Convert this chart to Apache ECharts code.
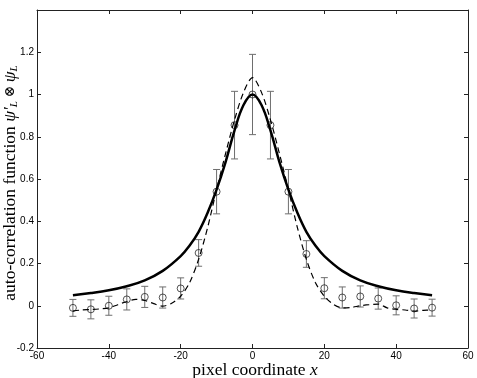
<!DOCTYPE html>
<html>
<head>
<meta charset="utf-8">
<script src="https://cdn.jsdelivr.net/npm/echarts@6/dist/echarts.min.js"></script>
<style>
html,body{margin:0;padding:0;background:#fff;}
#main{width:477px;height:378px;}
</style>
</head>
<body>
<div id="main"></div>
<script>
// measured points with error bars
var ptX = [-50,-45,-40,-35,-30,-25,-20,-15,-10,-5,0,5,10,15,20,25,30,35,40,45,50];
var ptY = [-0.01,-0.017,0.0,0.03,0.042,0.039,0.082,0.25,0.54,0.855,1.0,0.855,0.54,0.245,0.083,0.039,0.044,0.034,0.002,-0.013,-0.009];
var ptErr = [0.04,0.045,0.045,0.05,0.05,0.05,0.05,0.063,0.105,0.16,0.19,0.16,0.105,0.063,0.05,0.05,0.05,0.05,0.045,0.045,0.04];

// solid curve
var solidX = [-50,-45,-40,-35,-30,-25,-20,-17.5,-15,-12.5,-10,-7.5,-5,-2.5,0,2.5,5,7.5,10,12.5,15,17.5,20,25,30,35,40,45,50];
var solidY = [0.05,0.06,0.073,0.092,0.12,0.165,0.235,0.285,0.35,0.44,0.55,0.68,0.83,0.95,1.0,0.95,0.83,0.68,0.55,0.44,0.35,0.285,0.235,0.165,0.12,0.092,0.073,0.06,0.05];

// dashed curve
var dashX = [-50,-47.5,-45,-42.5,-40,-37.5,-35,-32.5,-30,-27.5,-25,-22.5,-20,-17.5,-15,-12.5,-10,-7.5,-5,-2.5,0,
	2.5,5,7.5,10,12.5,15,17.5,20,22.5,25,27.5,30,32.5,35,37.5,40,42.5,45,47.5,50];
var dashY = [-0.025,-0.02,-0.018,-0.015,-0.01,0.005,0.02,0.03,0.025,0.01,-0.002,0.012,0.045,0.11,0.22,0.37,0.55,0.72,0.88,1.01,1.08,
	1.01,0.88,0.72,0.55,0.37,0.22,0.11,0.045,0.007,-0.01,-0.008,0.0,0.005,0.008,-0.01,-0.017,-0.02,-0.025,-0.022,-0.02];

var xTicks = {min: -60, max: 60, interval: 20};
var yTicks = {min: -0.2, max: 1.4, interval: 0.2};

function pairs(xs, ys) {
	var out = [];
	for (var i = 0; i < xs.length; i++) out.push([xs[i], ys[i]]);
	return out;
}

var errData = [];
for (var i = 0; i < ptX.length; i++) errData.push([ptX[i], ptY[i], ptErr[i]]);

function renderErr(params, api) {
	var x = api.value(0), y = api.value(1), e = api.value(2);
	var top = api.coord([x, y + e]);
	var bot = api.coord([x, y - e]);
	var w = 3.5;
	var st = {stroke: '#6e6e6e', lineWidth: 1};
	return {
		type: 'group',
		children: [
			{type: 'line', shape: {x1: top[0], y1: top[1], x2: bot[0], y2: bot[1]}, style: st},
			{type: 'line', shape: {x1: top[0] - w, y1: top[1], x2: top[0] + w, y2: top[1]}, style: st},
			{type: 'line', shape: {x1: bot[0] - w, y1: bot[1], x2: bot[0] + w, y2: bot[1]}, style: st}
		]
	};
}

var lblFont = {fontFamily: 'Liberation Sans, Arial, sans-serif', fontSize: 10, color: '#000'};
var lineSt = {show: true, onZero: false, lineStyle: {color: '#222', width: 1}};
var tickSt = {show: true, inside: true, length: 4, lineStyle: {color: '#222', width: 1}};

function fmt(v) {
	if (Math.abs(v - 1.4) < 1e-6) return '';
	return (Math.round(v * 10) / 10).toString();
}

var chart = echarts.init(document.getElementById('main'));
chart.setOption({
	animation: false,
	backgroundColor: '#fff',
	grid: {left: 37, right: 9, top: 10, bottom: 30, containLabel: false},
	xAxis: [
		{type: 'value', min: xTicks.min, max: xTicks.max, interval: xTicks.interval, position: 'bottom',
			axisLine: lineSt, axisTick: tickSt, splitLine: {show: false},
			axisLabel: Object.assign({margin: 3}, lblFont)},
		{type: 'value', min: xTicks.min, max: xTicks.max, interval: xTicks.interval, position: 'top',
			axisLine: lineSt, axisTick: tickSt, splitLine: {show: false}, axisLabel: {show: false}}
	],
	yAxis: [
		{type: 'value', min: yTicks.min, max: yTicks.max, interval: yTicks.interval, position: 'left',
			axisLine: lineSt, axisTick: tickSt, splitLine: {show: false},
			axisLabel: Object.assign({margin: 3, formatter: fmt}, lblFont)},
		{type: 'value', min: yTicks.min, max: yTicks.max, interval: yTicks.interval, position: 'right',
			axisLine: lineSt, axisTick: tickSt, splitLine: {show: false}, axisLabel: {show: false}}
	],
	series: [
		{
			type: 'custom',
			renderItem: renderErr,
			data: errData,
			z: 2
		},
		{
			type: 'scatter',
			data: pairs(ptX, ptY),
			symbol: 'circle',
			symbolSize: 7,
			itemStyle: {color: 'rgba(0,0,0,0)', borderColor: '#111', borderWidth: 0.9},
			z: 3
		},
		{
			type: 'line',
			data: pairs(dashX, dashY),
			smooth: 0.3,
			showSymbol: false,
			lineStyle: {color: '#000', width: 1.2, type: [6, 4]},
			z: 4
		},
		{
			type: 'line',
			data: pairs(solidX, solidY),
			smooth: 0.4,
			showSymbol: false,
			lineStyle: {color: '#000', width: 2.5},
			z: 5
		}
	],
	graphic: [
		{
			type: 'text',
			x: 255, y: 370,
			style: {
				text: '{n|pixel coordinate }{i|x}',
				textAlign: 'center',
				textVerticalAlign: 'middle',
				rich: {
					n: {fontFamily: 'Liberation Serif, Times New Roman, serif', fontSize: 17.5, color: '#000'},
					i: {fontFamily: 'Liberation Serif, Times New Roman, serif', fontSize: 17.5, fontStyle: 'italic', color: '#000'}
				}
			}
		},
		{
			type: 'text',
			x: 10, y: 183,
			rotation: Math.PI / 2,
			style: {
				text: '{n|auto-correlation function }{i|ψ′}{s|L}{o| ⊗ }{i|ψ}{s|L}',
				textAlign: 'center',
				textVerticalAlign: 'middle',
				rich: {
					n: {fontFamily: 'Liberation Serif, Times New Roman, serif', fontSize: 17.5, lineHeight: 20, color: '#000'},
					o: {fontFamily: 'Liberation Serif, DejaVu Serif, serif', fontSize: 14, lineHeight: 20, color: '#000'},
					i: {fontFamily: 'Liberation Serif, DejaVu Serif, serif', fontSize: 17.5, fontStyle: 'italic', lineHeight: 20, color: '#000'},
					s: {fontFamily: 'Liberation Serif, Times New Roman, serif', fontSize: 11, fontStyle: 'italic', lineHeight: 10, verticalAlign: 'bottom', color: '#000'}
				}
			}
		}
	]
});
</script>
</body>
</html>
